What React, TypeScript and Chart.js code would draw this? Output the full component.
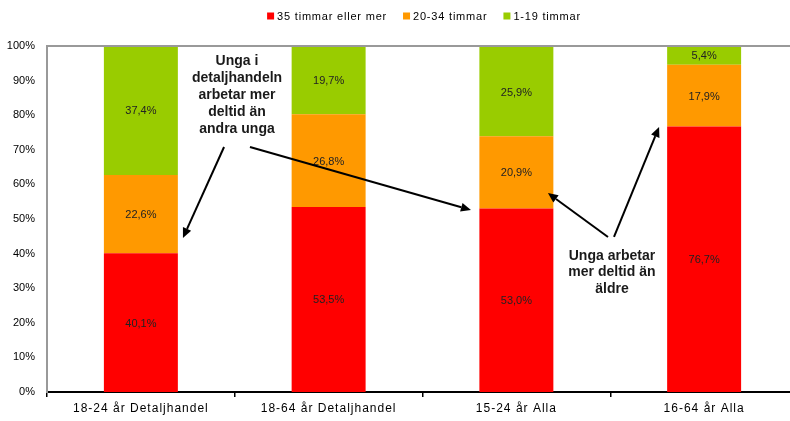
import { useEffect, useRef } from 'react';
import { Chart, registerables } from 'chart.js';

Chart.register(...registerables);

const categories = ['18-24 år Detaljhandel', '18-64 år Detaljhandel', '15-24 år Alla', '16-64 år Alla'];
const seriesLabels = ['35 timmar eller mer', '20-34 timmar', '1-19 timmar'];
const fullTime = [40.1, 53.5, 53.0, 76.7];
const midTime = [22.6, 26.8, 20.9, 17.9];
const partTime = [37.4, 19.7, 25.9, 5.4];
const seriesColors = ['#FF0000', '#FF9900', '#99CC00'];

// annotation texts anchored in data units (category index, percent)
const noteLeftLines = ['Unga i', 'detaljhandeln', 'arbetar mer', 'deltid än', 'andra unga'];
const noteLeftAnchor = [0.512, 95.7];
const noteRightLines = ['Unga arbetar', 'mer deltid än', 'äldre'];
const noteRightAnchor = [2.509, 39.3];
// arrows: [fromIndex, fromPct, toIndex, toPct]
const arrows = [
  [0.443, 70.8, 0.224, 44.5],
  [0.581, 70.8, 1.758, 52.6],
  [2.488, 44.8, 2.168, 57.5],
  [2.52, 44.8, 2.76, 76.6],
];

const FONT = "'Liberation Sans', Arial, sans-serif";

export default function App() {
  const ref = useRef<HTMLCanvasElement>(null);

  useEffect(() => {
    const xPix = (chart: any, v: number) => {
      const xs = chart.scales.x;
      const p0 = xs.getPixelForValue(0);
      const p1 = xs.getPixelForValue(1);
      return p0 + v * (p1 - p0);
    };
    const yPix = (chart: any, v: number) => chart.scales.y.getPixelForValue(v);

    const spacingPlugin = {
      id: 'spacing',
      beforeDraw(chart: any) {
        (chart.ctx as any).letterSpacing = '1px';
      },
    };

    const labelsPlugin = {
      id: 'labels',
      afterDatasetsDraw(chart: any) {
        const ctx = chart.ctx;
        ctx.save();
        (ctx as any).letterSpacing = '0px';
        ctx.font = `11px ${FONT}`;
        ctx.fillStyle = '#222';
        ctx.textAlign = 'center';
        ctx.textBaseline = 'middle';
        chart.data.datasets.forEach((ds: any, i: number) => {
          const meta = chart.getDatasetMeta(i);
          meta.data.forEach((el: any, j: number) => {
            const v = ds.data[j] as number;
            const cy = (el.y + el.base) / 2;
            ctx.fillText(v.toFixed(1).replace('.', ',') + '%', el.x, cy + 1);
          });
        });

        // annotation texts
        ctx.font = `bold 14px ${FONT}`;
        ctx.fillStyle = '#1a1a1a';
        const x1n = xPix(chart, noteLeftAnchor[0]);
        const y1n = yPix(chart, noteLeftAnchor[1]);
        noteLeftLines.forEach((l, k) => ctx.fillText(l, x1n, y1n + k * 17));
        const x2 = xPix(chart, noteRightAnchor[0]);
        const y2 = yPix(chart, noteRightAnchor[1]);
        noteRightLines.forEach((l, k) => ctx.fillText(l, x2, y2 + k * 16.5));

        // arrows
        ctx.strokeStyle = '#000';
        ctx.fillStyle = '#000';
        ctx.lineWidth = 2;
        arrows.forEach((a) => {
          const x1 = xPix(chart, a[0]);
          const y1 = yPix(chart, a[1]);
          const xe = xPix(chart, a[2]);
          const ye = yPix(chart, a[3]);
          const ang = Math.atan2(ye - y1, xe - x1);
          const len = 10;
          const hw = 4.5;
          const bx = xe - len * Math.cos(ang);
          const by = ye - len * Math.sin(ang);
          ctx.beginPath();
          ctx.moveTo(x1, y1);
          ctx.lineTo(bx, by);
          ctx.stroke();
          ctx.beginPath();
          ctx.moveTo(xe, ye);
          ctx.lineTo(bx + hw * Math.sin(ang), by - hw * Math.cos(ang));
          ctx.lineTo(bx - hw * Math.sin(ang), by + hw * Math.cos(ang));
          ctx.closePath();
          ctx.fill();
        });

        // frame top
        const ca = chart.chartArea;
        ctx.strokeStyle = '#999';
        ctx.lineWidth = 2;
        ctx.beginPath();
        ctx.moveTo(ca.left, ca.top);
        ctx.lineTo(ca.right + 10, ca.top);
        ctx.stroke();
        ctx.restore();
        // y tick labels (drawn after datasets) without letter spacing
        (ctx as any).letterSpacing = '0px';
      },
      afterDraw(chart: any) {
        // legend
        const ctx = chart.ctx;
        ctx.save();
        (ctx as any).letterSpacing = '0.8px';
        ctx.font = `11px ${FONT}`;
        ctx.textBaseline = 'middle';
        ctx.textAlign = 'left';
        const box = 7;
        const gap = 3;
        const itemGap = 16;
        const widths = seriesLabels.map((l) => box + gap + ctx.measureText(l).width);
        const total = widths.reduce((s, w) => s + w, 0) + itemGap * (seriesLabels.length - 1);
        let x = 424 - total / 2;
        const y = 16;
        seriesLabels.forEach((l, i) => {
          ctx.fillStyle = seriesColors[i];
          ctx.fillRect(x, y - box / 2, box, box);
          ctx.fillStyle = '#000';
          ctx.fillText(l, x + box + gap, y + 0.5);
          x += widths[i] + itemGap;
        });
        ctx.restore();
      },
    };

    const chart = new Chart(ref.current!, {
      type: 'bar',
      data: {
        labels: categories,
        datasets: [
          { label: seriesLabels[0], data: fullTime, backgroundColor: seriesColors[0] },
          { label: seriesLabels[1], data: midTime, backgroundColor: seriesColors[1] },
          { label: seriesLabels[2], data: partTime, backgroundColor: seriesColors[2] },
        ],
      },
      options: {
        animation: false,
        responsive: false,
        datasets: { bar: { categoryPercentage: 1, barPercentage: 0.394 } },
        layout: { padding: { top: 46, right: 2, left: 0, bottom: 0 } },
        plugins: { legend: { display: false }, tooltip: { enabled: false } },
        scales: {
          x: {
            stacked: true,
            grid: { display: true, drawOnChartArea: false, drawTicks: true, tickLength: 5, color: '#000', lineWidth: 1.5, offset: true },
            border: { display: true, color: '#000', width: 2 },
            ticks: { color: '#000', font: { family: FONT, size: 12 }, padding: 4, maxRotation: 0, autoSkip: false },
            afterFit: (s: any) => { s.height = 29; },
          },
          y: {
            stacked: true,
            min: 0,
            max: 100,
            ticks: { stepSize: 10, callback: (v: any) => v + '%', color: '#000', font: { family: FONT, size: 11 }, padding: 12, z: 1 },
            grid: { display: false, drawTicks: false },
            border: { display: true, color: '#999', width: 2 },
            afterFit: (s: any) => { s.width = 47; },
          },
        },
      } as any,
      plugins: [spacingPlugin, labelsPlugin],
    });
    return () => chart.destroy();
  }, []);

  return (
    <div style={{ position: 'absolute', left: 0, top: 0, width: 790, height: 421, overflow: 'hidden', background: '#fff' }}>
      <canvas ref={ref} width={800} height={421} style={{ display: 'block' }} />
    </div>
  );
}
